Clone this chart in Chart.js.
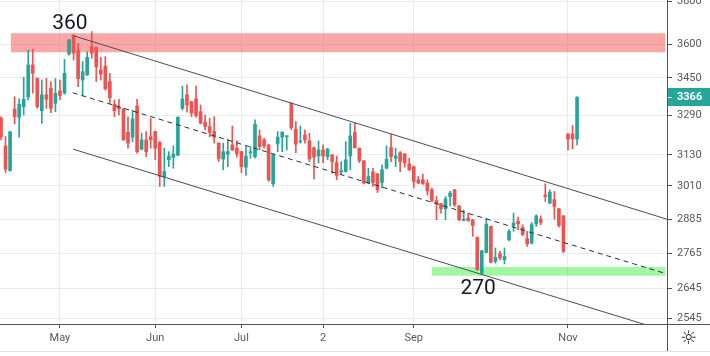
<!DOCTYPE html>
<html><head><meta charset="utf-8">
<script src="https://cdn.jsdelivr.net/npm/chart.js@4.4.1/dist/chart.umd.min.js"></script>
<style>html,body{margin:0;padding:0;background:#fff;}canvas{display:block}</style>
</head><body>
<canvas id="c" width="710" height="356"></canvas>
<script>
// ---- data (daily candles, index based) ----
const opens = [3280,3166,3069,3317,3283,3327,3369,3507,3448,3310, 3377,3405,3341,3394,3384,3556,3642,3574,3441,3463,
 3589,3584,3485,3502,3434,3337,3325,3317,3221,3201, 3330,3153,3190,3203,3224,3181,3043,3111,3121,3129,
 3320,3377,3348,3360,3306,3262,3244,3224,3177,3114, 3134,3170,3157,3143,3082,3139,3123,3206,3190,3170,
 3018,3174,3201,3203,3341,3234,3182,3210,3186,3159, 3126,3150,3123,3130,3100,3063,3065,3126,3220,3157,
 3107,3021,3064,3056,3023,3078,3159,3117,3139,3134, 3095,3084,3033,3033,3021,2995,2955,2943,2924,2970,
 2995,2935,2881,2890,2884,2820,2696,2767,2860,2736, 2763,2742,2812,2862,2878,2856,2816,2800,2869,2887,
 2976,2945,2958,2924,2898,3214,3214,3194];
const highs = [3284,3204,3225,3369,3360,3453,3574,3578,3450,3441, 3448,3434,3447,3441,3532,3622,3645,3604,3522,3566,
 3658,3589,3541,3544,3470,3355,3358,3320,3283,3313, 3358,3217,3224,3279,3226,3183,3157,3143,3166,3285,
 3415,3420,3350,3415,3334,3292,3279,3285,3179,3177, 3193,3247,3186,3145,3163,3163,3272,3231,3197,3172,
 3132,3224,3224,3207,3343,3265,3247,3231,3217,3161, 3186,3170,3157,3132,3126,3104,3183,3258,3261,3158,
 3108,3078,3078,3058,3091,3166,3214,3157,3143,3136, 3117,3087,3046,3055,3033,3002,2970,2944,2970,2989,
 2997,2937,2920,2908,2886,2822,2775,2890,2861,2783, 2771,2783,2848,2908,2894,2866,2842,2874,2902,2898,
 3018,2995,2989,2926,2900,3216,3248,3370];
const lows = [3190,3061,3067,3255,3201,3292,3355,3384,3320,3258, 3320,3302,3306,3355,3380,3551,3529,3412,3377,3461,
 3537,3434,3441,3398,3341,3285,3292,3188,3157,3183, 3137,3150,3123,3157,3111,3008,3008,3084,3078,3127,
 3313,3304,3285,3283,3255,3231,3203,3177,3104,3072, 3084,3147,3121,3061,3050,3117,3117,3150,3157,3027,
 3008,3143,3143,3150,3231,3139,3177,3177,3104,3036, 3098,3100,3111,3059,3033,3055,3063,3072,3157,3100,
 3018,3018,3008,2985,3002,3076,3104,3084,3065,3082, 3069,3002,3018,3016,2976,2951,2884,2908,2884,2935,
 2933,2881,2880,2878,2824,2705,2694,2766,2731,2730, 2742,2728,2808,2842,2848,2826,2788,2797,2860,2866,
 2951,2943,2886,2857,2767,3150,3154,3170];
const closes = [3202,3074,3223,3285,3337,3358,3507,3470,3327,3377, 3358,3320,3384,3374,3470,3619,3559,3447,3477,3541,
 3559,3499,3467,3402,3365,3310,3318,3190,3177,3276, 3143,3190,3143,3190,3157,3046,3065,3124,3134,3283,
 3360,3334,3300,3290,3258,3244,3220,3201,3116,3143, 3143,3150,3134,3084,3124,3143,3254,3163,3166,3033,
 3130,3201,3221,3206,3240,3173,3186,3190,3114,3121, 3150,3126,3153,3104,3050,3068,3111,3206,3159,3107,
 3021,3046,3023,2995,3072,3113,3124,3126,3104,3098, 3072,3027,3021,3018,2991,2955,2943,2924,2961,2983,
 2939,2884,2886,2881,2863,2708,2773,2868,2733,2750, 2748,2753,2842,2872,2869,2830,2797,2866,2898,2874,
 2970,2986,2933,2863,2771,3194,3194,3366];

// x-axis month labels (candle index where each starts)
const monthTickIndex = [13, 34, 53, 71, 91, 125];
const monthTickLabels = ['May', 'Jun', 'Jul', '2', 'Sep', 'Nov'];
// price axis ticks
const priceTicks = [3800, 3600, 3450, 3290, 3130, 3010, 2885, 2765, 2645, 2545];

// drawings: channel lines [index, price]
const channelUpperX = [16.1, 146.8];
const channelUpperY = [3638, 2886];
const channelMidX = [15.8, 146.4];
const channelMidY = [3386, 2695];
const channelLowX = [15.9, 146.8];
const channelLowY = [3153, 2505];
// zones
const resistX = [2.14, 146.5];
const resistTop = 3650, resistBottom = 3564;
const supportX = [94.95, 146.5];
const supportTop = 2717, supportBottom = 2687;
// text notes
const noteLabels = ['360', '270'];
const noteIndex = [15.2, 105.2];
const notePrice = [3696, 2643];

// ---- chart ----
const UP = '#26a69a', DOWN = '#ef5350';
const idx = closes.map((_, i) => i);
const candleColors = idx.map(i => closes[i] >= opens[i] ? UP : DOWN);
const AXIS = '#50535e', GRID = '#e7ecf2', LABEL = '#555962';
Chart.defaults.font.family = 'Roboto';

const pts = (xs, ys) => xs.map((x, k) => ({x: x, y: ys[k]}));
const datasets = [
  {type: 'line', data: pts(resistX, [resistTop, resistTop]), borderWidth: 0, borderColor: 'rgba(0,0,0,0)', pointRadius: 0, fill: false, order: 10},
  {type: 'line', data: pts(resistX, [resistBottom, resistBottom]), borderWidth: 0, borderColor: 'rgba(0,0,0,0)', pointRadius: 0, fill: {target: 0}, backgroundColor: 'rgba(245,60,60,0.45)', order: 10},
  {type: 'line', data: pts(supportX, [supportTop, supportTop]), borderWidth: 0, borderColor: 'rgba(0,0,0,0)', pointRadius: 0, fill: false, order: 10},
  {type: 'line', data: pts(supportX, [supportBottom, supportBottom]), borderWidth: 0, borderColor: 'rgba(0,0,0,0)', pointRadius: 0, fill: {target: 2}, backgroundColor: 'rgba(0,230,0,0.36)', order: 10},
  {type: 'bar', data: idx.map(i => ({x: i, y: [lows[i], highs[i]]})), backgroundColor: candleColors, barThickness: 1, grouped: false, order: 3},
  {type: 'bar', data: idx.map(i => ({x: i, y: [opens[i], closes[i]]})), backgroundColor: candleColors, barThickness: 3, minBarLength: 1, grouped: false, order: 2},
  {type: 'line', data: pts(channelUpperX, channelUpperY), borderColor: '#4a4d57', borderWidth: 1, pointRadius: 0, fill: false, order: 0},
  {type: 'line', data: pts(channelMidX, channelMidY), borderColor: '#2a2e39', borderWidth: 1, borderDash: [5, 4], pointRadius: 0, fill: false, order: 0},
  {type: 'line', data: pts(channelLowX, channelLowY), borderColor: '#4a4d57', borderWidth: 1, pointRadius: 0, fill: false, order: 0}
];

const decor = {
  id: 'decor',
  afterDraw(chart) {
    const ctx = chart.ctx, xs = chart.scales.x, ys = chart.scales.y, ca = chart.chartArea;
    ctx.save();
    // axis extensions
    ctx.strokeStyle = AXIS; ctx.lineWidth = 1;
    ctx.beginPath();
    ctx.moveTo(ca.right, ca.bottom + 0.5); ctx.lineTo(710, ca.bottom + 0.5);
    ctx.moveTo(ca.right + 0.5, ca.bottom); ctx.lineTo(ca.right + 0.5, 351);
    ctx.stroke();
    ctx.strokeStyle = '#e0e3eb';
    ctx.beginPath(); ctx.moveTo(0, 351.5); ctx.lineTo(710, 351.5); ctx.stroke();
    // settings icon
    ctx.fillStyle = '#2a2e39'; ctx.font = '19px "DejaVu Sans"';
    ctx.textAlign = 'center'; ctx.textBaseline = 'middle';
    ctx.fillText('\u263C', 688.5, 339);
    // last price label
    const last = closes[closes.length - 1];
    const py = ys.getPixelForValue(last);
    ctx.fillStyle = UP;
    ctx.fillRect(ca.right + 1, Math.round(py) - 9, 710 - ca.right - 1, 18);
    ctx.strokeStyle = '#ffffff';
    ctx.beginPath(); ctx.moveTo(ca.right + 1, Math.round(py) + 0.5); ctx.lineTo(ca.right + 5, Math.round(py) + 0.5); ctx.stroke();
    ctx.fillStyle = '#ffffff'; ctx.font = 'bold 11px Roboto';
    ctx.textAlign = 'left'; ctx.fillText(String(last), ca.right + 10, Math.round(py) + 0.5);
    // notes
    ctx.fillStyle = '#131722'; ctx.font = '21px Roboto'; ctx.textAlign = 'center';
    noteLabels.forEach((t, k) => {
      ctx.fillText(t, xs.getPixelForValue(noteIndex[k]), ys.getPixelForValue(notePrice[k]));
    });
    ctx.restore();
  }
};

new Chart(document.getElementById('c'), {
  type: 'bar',
  data: {datasets: datasets},
  plugins: [decor],
  options: {
    responsive: false, animation: false, devicePixelRatio: 1,
    layout: {padding: 0},
    plugins: {legend: {display: false}, tooltip: {enabled: false}},
    scales: {
      x: {
        type: 'linear', position: 'bottom', min: -0.22, max: 146.83, offset: false, bounds: 'data',
        afterBuildTicks: s => { s.ticks = monthTickIndex.map(v => ({value: v})); },
        afterFit: s => { s.height = 32; s.paddingLeft = 0; s.paddingRight = 0; },
        ticks: {autoSkip: false, maxRotation: 0, padding: 4, color: LABEL, font: {size: 11},
          callback: v => monthTickLabels[monthTickIndex.indexOf(v)]},
        grid: {color: GRID, tickColor: AXIS, tickLength: 4, offset: false},
        border: {color: AXIS, width: 1}
      },
      y: {
        type: 'logarithmic', position: 'right', min: 2528, max: 3807, bounds: 'data',
        afterBuildTicks: s => { s.ticks = priceTicks.map(v => ({value: v})); },
        afterFit: s => { s.width = 43; s.paddingTop = 0; s.paddingBottom = 0; },
        ticks: {padding: 5, color: LABEL, font: {size: 11}, callback: v => String(v)},
        grid: {color: GRID, tickColor: AXIS, tickLength: 5, offset: false},
        border: {color: AXIS, width: 1}
      }
    }
  }
});
</script>
</body></html>
